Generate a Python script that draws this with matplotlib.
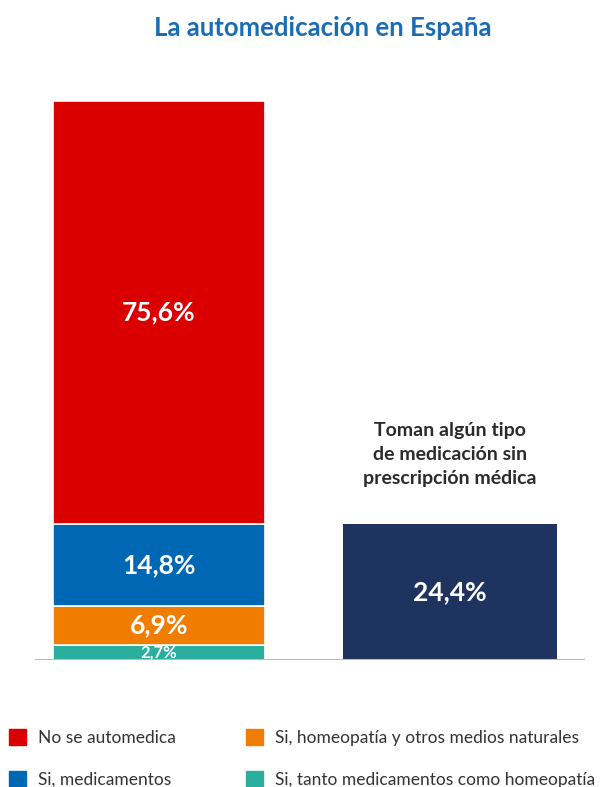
import matplotlib.pyplot as plt
from matplotlib.patches import Patch

plt.rcParams['font.family'] = ['Lato', 'DejaVu Sans']

# stacked bar (bottom to top)
segment_labels = ["Si, tanto medicamentos como homeopatía",
                  "Si, homeopatía y otros medios naturales",
                  "Si, medicamentos",
                  "No se automedica"]
segment_values = [2.7, 6.9, 14.8, 75.6]
segment_colors = ["#2AAE9E", "#F07D00", "#0067B4", "#DB0000"]
segment_fontsize = [12, 19, 19, 19]

total_label = "Toman algún tipo\nde medicación sin\nprescripción médica"
total_value = 24.4

fig = plt.figure(figsize=(6.09, 7.87), dpi=100)
ax = fig.add_axes([35 / 609, (787 - 660) / 787, 550 / 609, 559 / 787])

bottom = 0
for val, col, fs in zip(segment_values, segment_colors, segment_fontsize):
    ax.bar(0, val, bottom=bottom, width=0.73, color=col, edgecolor="white", linewidth=1.2)
    ax.text(0, bottom + val / 2, f"{val:.1f}%".replace(".", ","), ha="center", va="center",
            color="white", fontsize=fs, fontweight="bold", clip_on=True)
    bottom += val

ax.bar(1, total_value, width=0.735, color="#1F3360")
ax.text(1, total_value / 2, f"{total_value:.1f}%".replace(".", ","), ha="center", va="center",
        color="white", fontsize=19, fontweight="bold")
ax.text(1, total_value + 6.5, total_label, ha="center", va="bottom", color="#2b2b2b",
        fontsize=14, fontweight="bold", linespacing=1.5)

ax.axhline(0, color="#bbbbbb", linewidth=1.5)
ax.set_xlim(-0.426, 1.464)
ax.set_ylim(0, 100)
ax.axis("off")

fig.text(0.53, 1 - 28 / 787, "La automedicación en España", ha="center", va="center",
         color="#1A6DB5", fontsize=18.5, fontweight="bold")

# legend: column 1 = red, blue ; column 2 = orange, teal
leg_order = [3, 2, 1, 0]
handles = [Patch(color=segment_colors[i]) for i in leg_order]
labels = [segment_labels[i] for i in leg_order]
fig.legend(handles, labels, ncol=2, loc="lower left", bbox_to_anchor=(0.0, -0.012),
           frameon=False, fontsize=12.5, handlelength=1.0, handleheight=1.0,
           handletextpad=0.7, columnspacing=4.0, labelspacing=1.45, labelcolor="#333333",
           borderpad=0.3, borderaxespad=0.2)

fig.savefig("out.png", dpi=100)
